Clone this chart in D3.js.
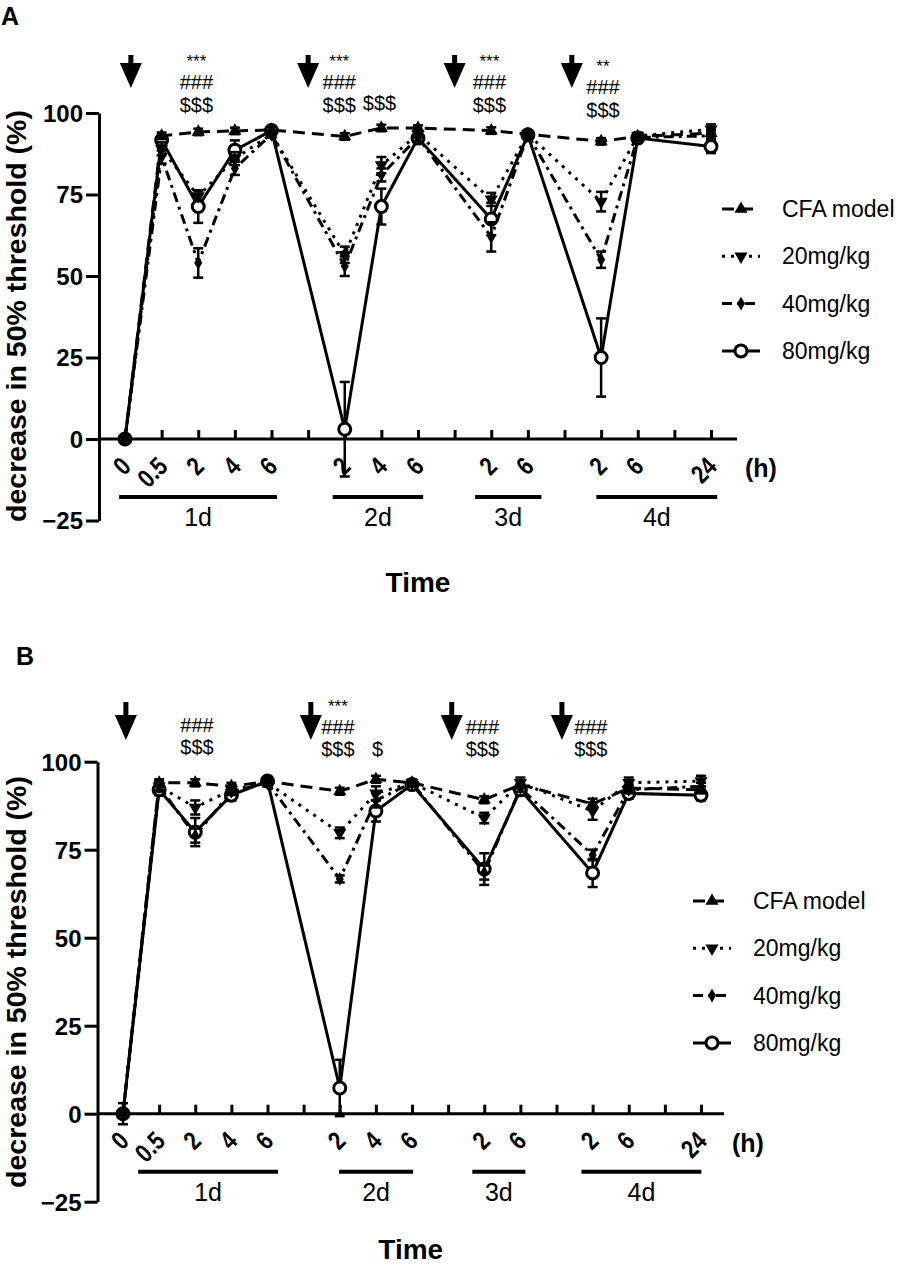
<!DOCTYPE html>
<html>
<head>
<meta charset="utf-8">
<script src="https://cdn.jsdelivr.net/npm/d3@7"></script>
<style>
body { margin: 0; background: #fff; }
svg { display: block; }
text { font-family: "Liberation Sans", Arial, sans-serif; fill: #000; }
</style>
</head>
<body>
<script>
// x axis: 17 evenly spaced slots, some left blank
const tickLabels = ['0', '0.5', '2', '4', '6', '', '2', '4', '6', '', '2', '6', '', '2', '6', '', '24']
// slot index of each measured time point
const timeIdx = [0, 1, 2, 3, 4, 6, 7, 8, 10, 11, 13, 14, 16]
const yTicks = [-25, 0, 25, 50, 75, 100]
const dayLabels = ['1d', '2d', '3d', '4d']
const seriesNames = ['CFA model', '20mg/kg', '40mg/kg', '80mg/kg']

// panel A
const cfaA   = [0, 93, 94.2, 94.5, 94.8, 92.8, 95.4, 95.4, 94.6, 93.5, 91.3, 92.8, 93.8]
const d20A   = [0, 89, 74.5, 86, 93.5, 56.5, 84, 93.5, 73.5, 93.5, 72.8, 93, 95]
const d40A   = [0, 86.5, 54, 83, 93.5, 53, 81, 92.5, 62, 93.3, 55, 92.5, 93]
const d80A   = [0, 91.7, 71.3, 88.6, 94.6, 3, 71.3, 92.3, 67.5, 93.3, 25, 92.3, 89.7]
const errCfaA = [0, 1, 1, 1, 1, 1, 1, 0.8, 1, 1, 1, 1, 1]
const err20A  = [0, 2, 1.5, 2, 1, 2.5, 2.5, 1, 2, 1, 3, 1, 1.5]
const err40A  = [0, 2, 4.5, 2, 1, 3, 2, 1, 4.5, 1, 2.5, 1, 1]
const err80A  = [0.5, 1, 5, 3, 1, 14.5, 5.5, 1.5, 5, 1, 12, 1, 2]

// panel B
const cfaB   = [0, 94, 94, 93, 94.4, 91.6, 95, 94, 89.2, 93.5, 88, 92.5, 92]
const d20B   = [0, 93, 87, 92, 94, 79.8, 91, 94, 84, 94, 86, 94, 94.5]
const d40B   = [0, 93, 79, 91.5, 94, 66.7, 89, 94, 68.5, 92.5, 73.5, 92, 93]
const d80B   = [0, 92, 80, 90.5, 94.5, 7.3, 86, 93.5, 69.5, 92, 68.4, 91, 90.5]
const errCfaB = [0, 1, 1, 1, 1, 1, 1, 1, 1, 1, 1.5, 1, 1]
const err20B  = [0, 1.5, 2, 1, 1, 1.5, 2, 1, 1.5, 1.5, 2.5, 1.5, 1.5]
const err40B  = [0, 1, 2, 1, 1, 1, 2, 1, 2, 1, 1.5, 1, 1]
const err80B  = [3, 1.5, 4, 1.5, 1, 8, 3, 1, 4.5, 1.5, 4, 1.5, 1.5]

// injection arrows (slot units) and significance marks
const arrowsA = [0.16, 5.0, 9.0, 12.2]
const arrowsB = [0.08, 5.2, 9.1, 12.15]
const sigA = [
	{i: 1.95, lines: ['***', '###', '$$$'], dy: 0},
	{i: 5.85, lines: ['***', '###', '$$$'], dy: 0},
	{i: 6.95, lines: ['', '', '$$$'], dy: -2},
	{i: 9.95, lines: ['***', '###', '$$$'], dy: 0},
	{i: 13.05, lines: ['**', '###', '$$$'], dy: 5},
]
const sigB = [
	{i: 2.05, lines: ['', '###', '$$$'], dy: -2},
	{i: 5.95, lines: ['***', '###', '$$$'], dy: 0},
	{i: 7.05, lines: ['', '', '$'], dy: 0},
	{i: 9.95, lines: ['', '###', '$$$'], dy: 0},
	{i: 12.95, lines: ['', '###', '$$$'], dy: 0},
]

const styles = [
	{dash: '12,7', symbol: 'up'},
	{dash: '3,6', symbol: 'down'},
	{dash: '10,5,3,5', symbol: 'diamond'},
	{dash: null, symbol: 'circle'},
]

const svg = d3.select('body').append('svg')
	.attr('width', 900)
	.attr('height', 1267)

// squeeze text to look like a narrow font
function condense(sel, k) {
	sel.each(function() {
		const w = this.getComputedTextLength()
		if (w > 0) d3.select(this).attr('textLength', w * k).attr('lengthAdjust', 'spacingAndGlyphs')
	})
}

function marker(g, type, cx, cy) {
	if (type == 'circle') {
		g.append('circle').attr('cx', cx).attr('cy', cy).attr('r', 6)
			.attr('fill', '#fff').attr('stroke', '#000').attr('stroke-width', 3)
		return
	}
	const sym = type == 'diamond' ? d3.symbolDiamond : d3.symbolTriangle
	const size = type == 'diamond' ? 55 : 75
	g.append('path')
		.attr('d', d3.symbol().type(sym).size(size)())
		.attr('transform', `translate(${cx},${cy})` + (type == 'down' ? ' rotate(180)' : ''))
		.attr('fill', '#000')
}

function drawPanel(p) {
	const g = svg.append('g')
	const x = d3.scaleLinear().domain([0, 16]).range([p.x0, p.x16])
	const y = d3.scaleLinear().domain([-25, 100]).range([p.yBot, p.yTop])
	const axisY = y(0)

	g.append('text').text(p.letter)
		.attr('x', p.letterX).attr('y', p.letterY)
		.attr('font-size', 25).attr('font-weight', 'bold')

	// y axis
	const ya = g.append('g')
		.attr('transform', `translate(${p.axisLeft},0)`)
		.call(d3.axisLeft(y).tickValues(yTicks).tickSize(13).tickSizeOuter(0).tickPadding(3))
	ya.selectAll('path, line').attr('stroke', '#000').attr('stroke-width', 3)
	ya.selectAll('text').attr('font-size', 24).attr('font-weight', 'bold').attr('dy', '0.35em')

	g.append('text')
		.attr('transform', `translate(26,${p.titleY}) rotate(-90)`)
		.attr('text-anchor', 'middle')
		.attr('font-size', 28.5)
		.attr('font-weight', 'bold')
		.text('decrease in 50% threshold (%)')

	// x axis, ticks pointing up
	const xa = g.append('g')
		.attr('transform', `translate(0,${axisY})`)
		.call(d3.axisBottom(x).tickValues(d3.range(17)).tickSize(-9).tickSizeOuter(0).tickFormat(i => tickLabels[i]))
	xa.select('.domain').remove()
	xa.append('line')
		.attr('x1', p.axisLeft).attr('x2', p.axisRight)
		.attr('stroke', '#000').attr('stroke-width', 3)
	xa.selectAll('.tick line').attr('stroke', '#000').attr('stroke-width', 3)
	xa.selectAll('.tick text')
		.attr('y', 0).attr('dy', null)
		.attr('text-anchor', 'end')
		.attr('transform', 'translate(7,29) rotate(-45)')
		.attr('font-size', 26)
		.attr('font-weight', 'bold')
		.call(condense, 0.82)

	g.append('text').text('(h)')
		.attr('x', p.axisRight + 8).attr('y', axisY + 38)
		.attr('font-size', 25).attr('font-weight', 'bold')

	// day groups
	p.days.forEach((d, k) => {
		g.append('line')
			.attr('x1', x(d[0])).attr('x2', x(d[1]))
			.attr('y1', axisY + 58).attr('y2', axisY + 58)
			.attr('stroke', '#000').attr('stroke-width', 4)
		g.append('text').text(dayLabels[k])
			.attr('x', (x(d[0]) + x(d[1])) / 2).attr('y', axisY + 87)
			.attr('text-anchor', 'middle').attr('font-size', 25)
	})

	g.append('text').text('Time')
		.attr('x', (p.axisLeft + p.axisRight) / 2).attr('y', p.timeY)
		.attr('text-anchor', 'middle').attr('font-size', 28).attr('font-weight', 'bold')

	// arrows
	p.arrows.forEach(a => {
		const cx = x(a)
		g.append('path')
			.attr('d', `M${cx - 2.5},${p.arrowTop}H${cx + 2.5}V${p.arrowHead}H${cx + 11}L${cx},${p.arrowBot}L${cx - 11},${p.arrowHead}H${cx - 2.5}Z`)
			.attr('fill', '#000')
	})

	// significance marks
	p.sig.forEach(s => {
		s.lines.forEach((t, k) => {
			if (!t) return
			g.append('text').text(t)
				.attr('x', x(s.i)).attr('y', p.sigY[k] + s.dy)
				.attr('text-anchor', 'middle')
				.attr('font-size', k == 0 ? 17 : 20)
		})
	})

	const line = d3.line().x((d, i) => x(timeIdx[i])).y(d => y(d))

	// lines
	p.values.forEach((vals, s) => {
		g.append('path')
			.attr('d', line(vals))
			.attr('fill', 'none')
			.attr('stroke', '#000')
			.attr('stroke-width', 3)
			.attr('stroke-dasharray', styles[s].dash)
	})

	// error bars + markers, 80mg first so others sit on top
	;[3, 2, 1, 0].forEach(s => {
		const vals = p.values[s]
		const errs = p.errors[s]
		vals.forEach((v, i) => {
			const e = errs[i]
			if (e <= 0) return
			const cx = x(timeIdx[i])
			g.append('line')
				.attr('x1', cx).attr('x2', cx)
				.attr('y1', y(v - e)).attr('y2', y(v + e))
				.attr('stroke', '#000').attr('stroke-width', 2.5)
			;[v - e, v + e].forEach(c => {
				g.append('line')
					.attr('x1', cx - 5).attr('x2', cx + 5)
					.attr('y1', y(c)).attr('y2', y(c))
					.attr('stroke', '#000').attr('stroke-width', 2.5)
			})
		})
		vals.forEach((v, i) => marker(g, styles[s].symbol, x(timeIdx[i]), y(v)))
	})

	// legend
	seriesNames.forEach((name, s) => {
		const ly = p.legendY + s * p.legendStep
		g.append('line')
			.attr('x1', p.legendX).attr('x2', p.legendX + 38)
			.attr('y1', ly).attr('y2', ly)
			.attr('stroke', '#000').attr('stroke-width', 3)
			.attr('stroke-dasharray', styles[s].dash)
		marker(g, styles[s].symbol, p.legendX + 19, ly)
		g.append('text').text(name)
			.attr('x', p.legendX + 60).attr('y', ly + 8)
			.attr('font-size', 23)
	})
}

drawPanel({
	letter: 'A', letterX: 1, letterY: 25,
	x0: 125, x16: 711, axisLeft: 99, axisRight: 737,
	yTop: 113, yBot: 520.5, titleY: 316, timeY: 592,
	values: [cfaA, d20A, d40A, d80A],
	errors: [errCfaA, err20A, err40A, err80A],
	days: [[-0.16, 4.15], [5.67, 8.14], [9.56, 11.37], [12.87, 16.17]],
	arrows: arrowsA, arrowTop: 55, arrowHead: 63, arrowBot: 88,
	sig: sigA, sigY: [67, 89, 112],
	legendX: 722, legendY: 209, legendStep: 47.3,
})

drawPanel({
	letter: 'B', letterX: 16, letterY: 665,
	x0: 123, x16: 701, axisLeft: 97.5, axisRight: 724,
	yTop: 761.7, yBot: 1201.7, titleY: 982, timeY: 1259,
	values: [cfaB, d20B, d40B, d80B],
	errors: [errCfaB, err20B, err40B, err80B],
	days: [[0.42, 4.29], [5.98, 8.03], [9.67, 11.14], [12.69, 16.01]],
	arrows: arrowsB, arrowTop: 702, arrowHead: 715, arrowBot: 740,
	sig: sigB, sigY: [712, 734, 756],
	legendX: 693, legendY: 901, legendStep: 47.3,
})
</script>
</body>
</html>
